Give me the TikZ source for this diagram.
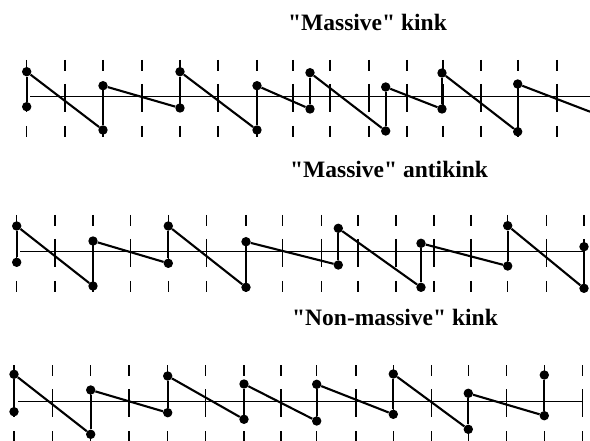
\documentclass[tikz,border=0pt]{standalone}
\usepackage{fontspec}
\setmainfont{Liberation Serif}
\usetikzlibrary{positioning}

\tikzset{
  dot/.style={circle,fill,inner sep=0pt,minimum size=9.4pt},
  site/.style={line width=1.7pt},
  spring/.style={line width=2.1pt},
  axisline/.style={line width=1.4pt},
  tickline/.style={line width=1.2pt,dash pattern=on 11pt off 13pt on 28pt off 14pt on 11pt off 40pt},
  title/.style={font=\bfseries\fontsize{23.5}{27}\selectfont,anchor=base west,inner sep=0pt}
}
\newcommand{\qq}{\textquotedbl}

\begin{document}
\begin{tikzpicture}[x=1pt,y=-1pt]
        \useasboundingbox (0,0) rectangle (590,441);
        % lattice ticks
        \foreach \x in {26.7,65,103,142,180,218,257,293,330,369,407,443,481,518,557}
          \draw[tickline] (\x,60) -- (\x,137);
        \foreach \x in {16.7,55,93,130.7,168.3,206.7,246,282.7,321.7,358,396,434,471,507.7,546.7,584}
          \draw[tickline] (\x,215) -- (\x,292);
        \foreach \x in {14,52.3,90.7,129,167.7,205.7,244,281,316.7,356,393.3,431.7,468.3,506.7,544.3,582.7}
          \draw[tickline] (\x,365) -- (\x,442);
        % axes
        \draw[axisline] (30,96.7) -- (590,96.7);
        \draw[axisline] (20,251.7) -- (583,251.7);
        \draw[axisline] (18,401.7) -- (582,401.7);
        % titles
        \node[title] (ttl-k) at (288,31) {\qq Massive\qq{} kink};
        \node[title] (ttl-a) at (290,178) {\qq Massive\qq{} antikink};
        \node[title] (ttl-n) at (292,326) {\qq Non-massive\qq{} kink};
        % massive kink
        \foreach \x/\t/\b [count=\i] in {26.7/71.7/106.7, 103/85.7/130, 180/71.7/108, 257/85.7/130,
            310/72.7/109, 385.7/87/131, 442/73/109, 517.7/84/131.7}{
          \node[dot] (k-t\i) at (\x,\t) {};
          \node[dot] (k-b\i) at (\x,\b) {};
          \draw[site] (k-t\i) -- (k-b\i);
        }
        \coordinate (k-end) at (590,111.7);
        \foreach \i [count=\j from 2] in {1,...,7} \draw[spring] (k-t\i) -- (k-b\j);
        \draw[spring] (k-t8) -- (k-end);
        % massive antikink
        \foreach \x/\t/\b [count=\i] in {16.7/226/262.3, 93/241/286, 168.3/226/263.3, 246/241.7/287.3,
            338.3/228.3/265, 421/243.3/287.3, 507.7/225.7/266, 584/246.7/288.3}{
          \node[dot] (a-t\i) at (\x,\t) {};
          \node[dot] (a-b\i) at (\x,\b) {};
          \draw[site] (a-t\i) -- (a-b\i);
        }
        \foreach \i [count=\j from 2] in {1,...,7} \draw[spring] (a-t\i) -- (a-b\j);
        % non-massive kink
        \foreach \x/\t/\b [count=\i] in {14/374.3/411.7, 90.7/390/434.3, 167.7/376/412.7, 244/384/419.3,
            316.7/384.3/421, 393.3/374/414.3, 468.3/393.3/429.3, 544.3/375/415.7}{
          \node[dot] (n-t\i) at (\x,\t) {};
          \node[dot] (n-b\i) at (\x,\b) {};
          \draw[site] (n-t\i) -- (n-b\i);
        }
        \foreach \i [count=\j from 2] in {1,...,7} \draw[spring] (n-t\i) -- (n-b\j);
\end{tikzpicture}
\end{document}
